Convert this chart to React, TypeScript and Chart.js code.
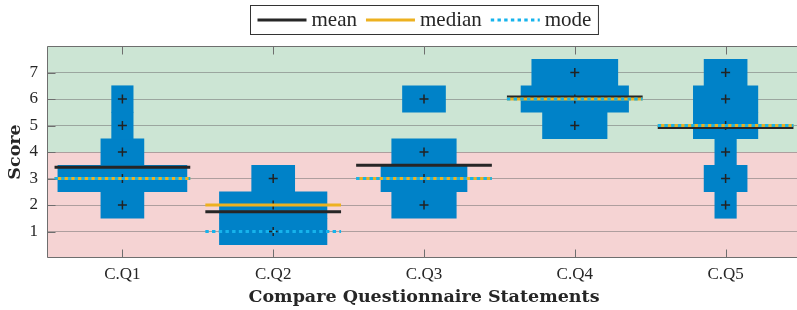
import React, { useEffect, useRef } from 'react';
import { Chart, registerables } from 'chart.js';

Chart.register(...registerables);

// ---- data ----
const categories = ['C.Q1', 'C.Q2', 'C.Q3', 'C.Q4', 'C.Q5'];
const scoreLevels = [1, 2, 3, 4, 5, 6, 7];
// number of responses at each score level (1..7) for each statement
const countsQ1 = [0, 2, 6, 2, 1, 1, 0];
const countsQ2 = [5, 5, 2, 0, 0, 0, 0];
const countsQ3 = [0, 3, 4, 3, 0, 2, 0];
const countsQ4 = [0, 0, 0, 0, 3, 5, 4];
const countsQ5 = [0, 1, 2, 1, 3, 3, 2];
const meanValues = [3.42, 1.75, 3.5, 6.08, 4.92];
const medianValues = [3, 2, 3, 6, 5];
const modeValues = [3, 1, 3, 6, 5];
const yTickValues = [1, 2, 3, 4, 5, 6, 7];
const thresholdScore = 4;

const allCounts = [countsQ1, countsQ2, countsQ3, countsQ4, countsQ5];

// ---- styling constants ----
const HALF_WIDTH_PER_COUNT = 0.0713; // category units per response (half width)
const SEG_HALF = 0.45;
const BLUE = '#0082C8';
const GREEN_BG = '#CCE5D4';
const PINK_BG = '#F5D3D3';
const MEAN_COLOR = '#262626';
const MEDIAN_COLOR = '#EDB120';
const MODE_COLOR = '#16B3EC';
const TEXT = '#262626';

function buildBars() {
  const out: any[] = [];
  allCounts.forEach((counts, i) => {
    const c = i + 1;
    counts.forEach((n, j) => {
      if (n > 0) {
        const hw = n * HALF_WIDTH_PER_COUNT;
        out.push({ y: scoreLevels[j], x: [c - hw, c + hw] });
      }
    });
  });
  return out;
}

function buildMarkers() {
  const out: any[] = [];
  allCounts.forEach((counts, i) => {
    counts.forEach((n, j) => {
      if (n > 0) out.push({ x: i + 1, y: scoreLevels[j] });
    });
  });
  return out;
}

function buildSegments(values: number[]) {
  const out: any[] = [];
  values.forEach((v, i) => {
    const c = i + 1;
    out.push({ x: c - SEG_HALF, y: v }, { x: c + SEG_HALF, y: v }, { x: c + 0.5, y: null });
  });
  return out;
}

const framePlugin = {
  id: 'frameAndBands',
  beforeDraw(chart: any) {
    const { ctx, chartArea: a, scales } = chart;
    const yT = scales.y.getPixelForValue(thresholdScore);
    ctx.save();
    ctx.fillStyle = GREEN_BG;
    ctx.fillRect(a.left, a.top, a.right - a.left, yT - a.top);
    ctx.fillStyle = PINK_BG;
    ctx.fillRect(a.left, yT, a.right - a.left, a.bottom - yT);
    ctx.restore();
  },
  afterDraw(chart: any) {
    const { ctx, chartArea: a, scales } = chart;
    ctx.save();
    ctx.strokeStyle = '#6e6e6e';
    ctx.lineWidth = 1;
    const L = Math.round(a.left) + 0.5;
    const T = Math.round(a.top) + 0.5;
    const B = Math.round(a.bottom) - 0.5;
    ctx.beginPath();
    ctx.moveTo(a.right, T);
    ctx.lineTo(L, T);
    ctx.lineTo(L, B);
    ctx.lineTo(a.right, B);
    ctx.stroke();
    const tl = 8;
    ctx.beginPath();
    scales.x.ticks.forEach((t: any) => {
      const px = Math.round(scales.x.getPixelForValue(t.value)) + 0.5;
      ctx.moveTo(px, B);
      ctx.lineTo(px, B - tl);
      ctx.moveTo(px, T);
      ctx.lineTo(px, T + tl);
    });
    scales.y.ticks.forEach((t: any) => {
      const py = Math.round(scales.y.getPixelForValue(t.value)) + 0.5;
      ctx.moveTo(L, py);
      ctx.lineTo(L + tl, py);
    });
    ctx.stroke();
    ctx.restore();

    // legend with frame
    const items = chart.data.datasets.filter((d: any) => d.type === 'line');
    ctx.save();
    ctx.font = '21px "Liberation Serif"';
    const sampleLen = 49, textGap = 5, itemGap = 9, padX = 7;
    const widths = items.map((d: any) => ctx.measureText(d.label).width);
    let total = padX * 2;
    items.forEach((_d: any, i: number) => {
      total += sampleLen + textGap + widths[i];
      if (i > 0) total += itemGap;
    });
    const cx = (a.left + a.right) / 2;
    const left = Math.round(cx - total / 2) + 0.5;
    const top = 5.5, h = 29;
    ctx.fillStyle = '#ffffff';
    ctx.fillRect(left, top, total, h);
    ctx.strokeStyle = '#333333';
    ctx.lineWidth = 1;
    ctx.strokeRect(left, top, total, h);
    let x = left + padX;
    const midY = top + 14.5;
    items.forEach((d: any, i: number) => {
      ctx.beginPath();
      ctx.strokeStyle = d.borderColor;
      ctx.lineWidth = d.borderWidth;
      ctx.setLineDash(d.borderDash || []);
      ctx.moveTo(x, midY);
      ctx.lineTo(x + sampleLen, midY);
      ctx.stroke();
      ctx.setLineDash([]);
      x += sampleLen + textGap;
      ctx.fillStyle = TEXT;
      ctx.textBaseline = 'alphabetic';
      ctx.textAlign = 'left';
      ctx.fillText(d.label, x, top + 20.5);
      x += widths[i] + itemGap;
    });
    ctx.restore();
  },
};

export default function App() {
  const ref = useRef<HTMLCanvasElement | null>(null);

  useEffect(() => {
    document.body.style.margin = '0';
    if (!ref.current) return;
    const chart = new Chart(ref.current, {
      type: 'scatter',
      data: {
        datasets: [
          {
            type: 'bar',
            label: 'counts',
            indexAxis: 'y',
            data: buildBars(),
            backgroundColor: BLUE,
            borderWidth: 0,
            barPercentage: 1,
            categoryPercentage: 1,
            grouped: false,
            order: 5,
          } as any,
          {
            type: 'scatter',
            label: 'responses',
            data: buildMarkers(),
            pointStyle: 'cross',
            pointRadius: 4.5,
            borderColor: '#222222',
            borderWidth: 1.5,
            order: 4,
          } as any,
          {
            type: 'line',
            label: 'mean',
            data: buildSegments(meanValues),
            borderColor: MEAN_COLOR,
            borderWidth: 3,
            pointRadius: 0,
            spanGaps: false,
            fill: false,
            borderCapStyle: 'butt',
            order: 3,
          } as any,
          {
            type: 'line',
            label: 'median',
            data: buildSegments(medianValues),
            borderColor: MEDIAN_COLOR,
            borderWidth: 3,
            pointRadius: 0,
            spanGaps: false,
            fill: false,
            borderCapStyle: 'butt',
            order: 2,
          } as any,
          {
            type: 'line',
            label: 'mode',
            data: buildSegments(modeValues),
            borderColor: MODE_COLOR,
            borderWidth: 3,
            borderDash: [3.4, 3.3],
            pointRadius: 0,
            spanGaps: false,
            fill: false,
            borderCapStyle: 'butt',
            order: 1,
          } as any,
        ],
      },
      options: {
        animation: false,
        responsive: false,
        devicePixelRatio: 1,
        events: [],
        layout: { padding: { top: 46, left: 0, right: 0, bottom: 0 } },
        plugins: { legend: { display: false }, tooltip: { enabled: false } },
        scales: {
          x: {
            type: 'linear',
            min: 0.5,
            max: 5.5,
            offset: false,
            afterBuildTicks: (scale: any) => {
              scale.ticks = categories.map((_c, i) => ({ value: i + 1 }));
            },
            afterFit: (scale: any) => {
              scale.height = 52;
            },
            ticks: {
              autoSkip: false,
              maxRotation: 0,
              padding: 6,
              color: TEXT,
              font: { family: '"Liberation Serif"', size: 17 },
              callback: (v: any) => categories[Math.round(Number(v)) - 1] ?? '',
            },
            grid: { display: false, drawTicks: false, offset: false },
            border: { display: false },
            title: {
              display: true,
              text: 'Compare Questionnaire Statements',
              color: TEXT,
              font: { family: '"DejaVu Serif"', size: 17.5, weight: 'bold' },
              padding: { top: 0, bottom: 2 },
            },
          },
          y: {
            type: 'linear',
            min: 0,
            max: 8,
            offset: false,
            beginAtZero: false,
            afterBuildTicks: (scale: any) => {
              scale.ticks = yTickValues.map((v) => ({ value: v }));
            },
            afterFit: (scale: any) => {
              scale.width = 47;
            },
            ticks: {
              padding: 9,
              color: TEXT,
              font: { family: '"Liberation Serif"', size: 17 },
              callback: (v: any) => String(v),
            },
            grid: { color: 'rgba(115,115,115,0.55)', lineWidth: 1, drawTicks: false, offset: false },
            border: { display: false },
            title: {
              display: true,
              text: 'Score',
              color: TEXT,
              font: { family: '"DejaVu Serif"', size: 17.5, weight: 'bold' },
              padding: { top: 5, bottom: 0 },
            },
          },
        },
      } as any,
      plugins: [framePlugin],
    });
    return () => chart.destroy();
  }, []);

  return (
    <div style={{ width: 797, height: 310, overflow: 'hidden', position: 'relative' }}>
      <canvas ref={ref} width={807} height={310} style={{ display: 'block', width: 807, height: 310 }} />
    </div>
  );
}
